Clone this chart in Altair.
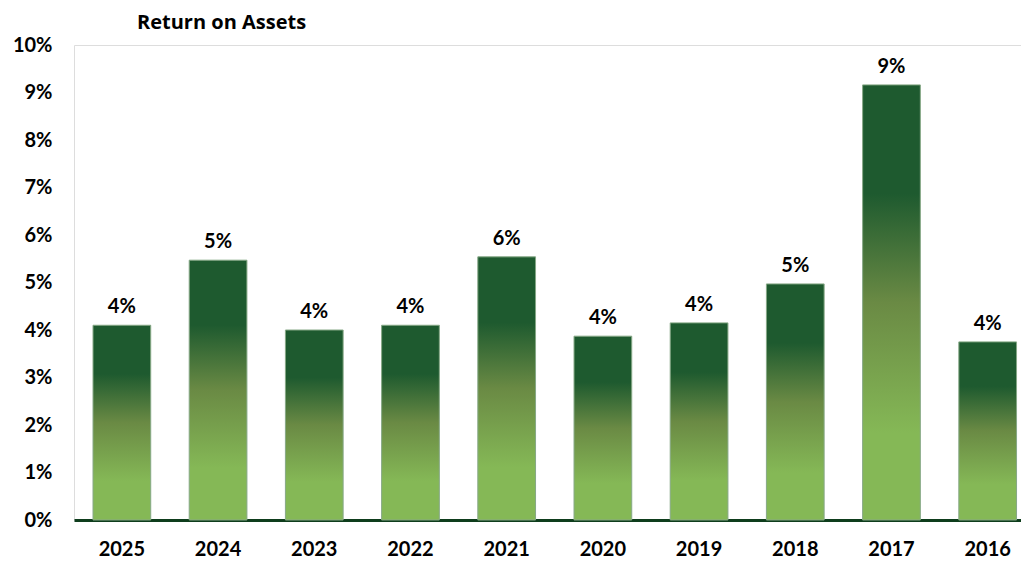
import altair as alt
import pandas as pd

years = ["2025", "2024", "2023", "2022", "2021", "2020", "2019", "2018", "2017", "2016"]
roa = [0.041, 0.0547, 0.040, 0.041, 0.0554, 0.0387, 0.0415, 0.0497, 0.0916, 0.0375]

df = pd.DataFrame({"year": years, "roa": roa})

FONT = "Lato"

grad = alt.LinearGradient(
    gradient="linear",
    x1=0, x2=0, y1=0, y2=1,
    stops=[
        alt.GradientStop(offset=0, color="#1e5a2f"),
        alt.GradientStop(offset=0.25, color="#1e5a2f"),
        alt.GradientStop(offset=0.5, color="#6a8a44"),
        alt.GradientStop(offset=0.8, color="#85b856"),
        alt.GradientStop(offset=1, color="#85b856"),
    ],
)

x_enc = alt.X(
    "year:N",
    sort=years,
    title=None,
    scale=alt.Scale(paddingInner=0.4, paddingOuter=0.122, align=0.81),
    axis=alt.Axis(
        labelAngle=0,
        labelFont=FONT,
        labelFontSize=20,
        labelFontWeight="bold",
        labelColor="#000000",
        labelPadding=19,
        ticks=False,
        domain=True,
        domainColor="#0e3d1c",
        domainWidth=3,
    ),
)

y_enc = alt.Y(
    "roa:Q",
    title=None,
    scale=alt.Scale(domain=[0, 0.10], nice=False),
    axis=alt.Axis(
        format=".0%",
        values=[i / 100 for i in range(11)],
        labelFont=FONT,
        labelFontSize=20,
        labelFontWeight="bold",
        labelColor="#000000",
        labelPadding=22,
        ticks=False,
        domain=False,
        grid=False,
    ),
)

bars = alt.Chart(df).mark_bar(
    color=grad,
    stroke="#86a886",
    strokeWidth=1,
).encode(x=x_enc, y=y_enc)

labels = alt.Chart(df).mark_text(
    font=FONT,
    fontSize=20,
    fontWeight="bold",
    color="#000000",
    baseline="alphabetic",
    dy=-12,
).encode(
    x=alt.X("year:N", sort=years),
    y=alt.Y("roa:Q"),
    text=alt.Text("roa:Q", format=".0%"),
)

chart = (
    alt.layer(bars, labels)
    .properties(
        width=947,
        height=475,
        autosize=alt.AutoSizeParams(type="none"),
        padding={"left": 66, "top": 37, "right": 0, "bottom": 40},
        title=alt.TitleParams(
            "Return on Assets",
            font="Open Sans",
            fontSize=20,
            fontWeight="bold",
            color="#000000",
            anchor="start",
            frame="group",
            dx=63,
            offset=2,
        ),
    )
    .configure_view(stroke=None)
    .configure(background="white")
)

chart.save("out.html", embed_options={"renderer": "svg", "actions": False})
